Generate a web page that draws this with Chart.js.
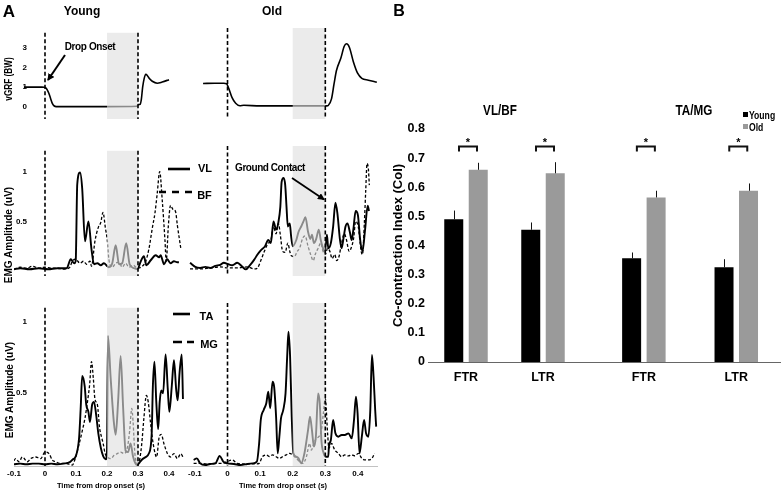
<!DOCTYPE html>
<html>
<head>
<meta charset="utf-8">
<script src="https://cdn.jsdelivr.net/npm/chart.js@4.4.1/dist/chart.umd.min.js"></script>
<style>
html,body{margin:0;padding:0;background:#fff;}
#fig{position:relative;width:781px;height:493px;overflow:hidden;font-family:"Liberation Sans",Arial,sans-serif;font-weight:bold;color:#000;}
#fig canvas{position:absolute;}
.t{position:absolute;transform:translate(-50%,-50%);line-height:1;white-space:nowrap;z-index:3;}
.l{position:absolute;transform:translate(0,-50%) scaleX(0.82);transform-origin:0 50%;line-height:1;white-space:nowrap;z-index:3;}
.r{transform:translate(-50%,-50%) rotate(-90deg);}
.rn{transform:translate(-50%,-50%) rotate(-90deg) scaleX(0.82);}
.n{transform:translate(-50%,-50%) scaleX(0.78);}
svg{position:absolute;left:0;top:0;z-index:2;}
</style>
</head>
<body>
<div id="fig">
  <div class="t" style="left:9px;top:11px;font-size:17px">A</div>
  <div class="t" style="left:82px;top:10.5px;font-size:12px">Young</div>
  <div class="t" style="left:272px;top:11px;font-size:12px">Old</div>
  <div class="t" style="left:90px;top:46.5px;font-size:10px;letter-spacing:-0.4px">Drop Onset</div>
  <div class="t" style="left:270px;top:167.5px;font-size:10px;letter-spacing:-0.45px">Ground Contact</div>
  <div class="t" style="left:205px;top:167.5px;font-size:11px">VL</div>
  <div class="t" style="left:204.5px;top:195px;font-size:11px">BF</div>
  <div class="t" style="left:206.5px;top:316px;font-size:11px">TA</div>
  <div class="t" style="left:209px;top:343.5px;font-size:11px">MG</div>
  <div class="t rn" style="left:9px;top:78.5px;font-size:10px">vGRF (BW)</div>
  <div class="t r" style="left:9px;top:235px;font-size:10px">EMG Amplitude (uV)</div>
  <div class="t r" style="left:9.5px;top:390px;font-size:10px">EMG Amplitude (uV)</div>

  <div class="t" style="left:399px;top:10.5px;font-size:16px">B</div>
  <div class="t n" style="left:499.5px;top:109px;font-size:15px">VL/BF</div>
  <div class="t n" style="left:694px;top:109px;font-size:15px">TA/MG</div>
  <div style="position:absolute;left:743px;top:112px;width:5px;height:5px;background:#000"></div>
  <div style="position:absolute;left:743px;top:124px;width:5px;height:5px;background:#9a9a9a"></div>
  <div class="l" style="left:749px;top:114.5px;font-size:10.5px">Young</div>
  <div class="l" style="left:749px;top:126.5px;font-size:10.5px">Old</div>

  <svg width="781" height="493">
    <defs>
      <marker id="ah" markerWidth="7" markerHeight="7" refX="6" refY="3.5" orient="auto" markerUnits="userSpaceOnUse">
        <path d="M0,0 L7,3.5 L0,7 z" fill="#000"/>
      </marker>
    </defs>
    <line x1="65" y1="55" x2="48" y2="80" stroke="#000" stroke-width="2" marker-end="url(#ah)"/>
    <line x1="292" y1="178" x2="324" y2="199.5" stroke="#000" stroke-width="1.8" marker-end="url(#ah)"/>
    <line x1="168" y1="169" x2="190" y2="169" stroke="#000" stroke-width="2.6"/>
    <line x1="159" y1="192" x2="192" y2="192" stroke="#000" stroke-width="2.6" stroke-dasharray="7,6"/>
    <line x1="173" y1="314" x2="190" y2="314" stroke="#000" stroke-width="2.6"/>
    <line x1="173" y1="342" x2="194" y2="342" stroke="#000" stroke-width="2.6" stroke-dasharray="9,5"/>
  </svg>
</div>

<script>
/* =====================
   Panel A data: [time (s), amplitude]
===================== */

const grfYoung=[[-0.068,1.0],[-0.04,1.0],[-0.01,1.0],[-0.003,0.99],[0.005,0.92],[0.012,0.7],[0.018,0.42],[0.024,0.15],[0.03,0.03],[0.036,0],[0.1,0],[0.2,0],[0.297,0.02],[0.3,0.1],[0.307,0.12],[0.311,0.4],[0.315,1.0],[0.32,1.45],[0.325,1.66],[0.33,1.6],[0.336,1.45],[0.346,1.3],[0.362,1.2],[0.378,1.26],[0.395,1.35],[0.4,1.38]];

const grfOld=[[-0.075,1.09],[-0.04,1.1],[-0.011,1.1],[-0.003,1.08],[0.004,0.84],[0.014,0.4],[0.025,0.13],[0.038,0.01],[0.05,0.03],[0.1,0],[0.2,0],[0.305,0],[0.309,0.02],[0.319,0.34],[0.327,1.09],[0.334,1.71],[0.348,2.34],[0.358,2.9],[0.365,3.02],[0.374,2.84],[0.386,2.15],[0.399,1.59],[0.412,1.34],[0.432,1.25],[0.458,1.15]];

const vlYoung=[[-0.1,0.02],[-0.08,0.03],[-0.05,0.02],[-0.02,0.03],[0.01,0.02],[0.04,0.03],[0.07,0.03],[0.083,0.12],[0.094,0.08],[0.099,0.1],[0.104,0.87],[0.113,0.99],[0.12,0.83],[0.129,0.3],[0.14,0.5],[0.15,0.22],[0.158,0.07],[0.169,0.08],[0.18,0.06],[0.19,0.08],[0.201,0.05],[0.206,0.04],[0.217,0.08],[0.228,0.26],[0.239,0.07],[0.249,0.08],[0.262,0.28],[0.273,0.07],[0.287,0.03],[0.298,0.02],[0.309,0.1],[0.319,0.15],[0.327,0.06],[0.341,0.11],[0.357,0.16],[0.368,0.14],[0.373,0.16],[0.384,0.07],[0.394,0.12],[0.405,0.08],[0.416,0.1],[0.427,0.09],[0.432,0.09]];

const bfYoung=[[-0.1,0.02],[-0.08,0.04],[-0.06,0.03],[-0.04,0.05],[-0.02,0.03],[0,0.04],[0.02,0.03],[0.04,0.03],[0.06,0.02],[0.08,0.04],[0.088,0.1],[0.099,0.12],[0.113,0.08],[0.124,0.1],[0.134,0.07],[0.145,0.1],[0.15,0.05],[0.161,0.3],[0.172,0.44],[0.18,0.49],[0.187,0.59],[0.195,0.43],[0.201,0.31],[0.206,0.12],[0.217,0.04],[0.228,0.08],[0.239,0.09],[0.249,0.04],[0.26,0.08],[0.271,0.04],[0.285,0.06],[0.298,0.03],[0.314,0.05],[0.325,0.1],[0.335,0.22],[0.346,0.43],[0.355,0.59],[0.362,0.78],[0.37,1.0],[0.378,0.72],[0.387,0.31],[0.391,0.1],[0.398,0.46],[0.405,0.66],[0.413,0.62],[0.421,0.6],[0.427,0.46],[0.438,0.23]];

const vlOld=[[-0.115,0.08],[-0.099,0.04],[-0.084,0.03],[-0.068,0.04],[-0.053,0.03],[-0.037,0.05],[-0.022,0.06],[-0.011,0.08],[-0.001,0.07],[0.015,0.056],[0.03,0.08],[0.045,0.043],[0.056,0.016],[0.069,0.056],[0.082,0.11],[0.092,0.16],[0.102,0.2],[0.115,0.24],[0.125,0.3],[0.133,0.27],[0.141,0.48],[0.149,0.4],[0.156,0.47],[0.162,0.62],[0.166,0.86],[0.172,0.9],[0.177,0.83],[0.181,0.62],[0.185,0.43],[0.191,0.46],[0.195,0.34],[0.2,0.24],[0.211,0.3],[0.218,0.38],[0.226,0.43],[0.233,0.48],[0.239,0.52],[0.247,0.38],[0.254,0.31],[0.259,0.35],[0.265,0.27],[0.272,0.31],[0.28,0.4],[0.286,0.3],[0.293,0.22],[0.298,0.18],[0.305,0.35],[0.309,0.22],[0.317,0.27],[0.324,0.43],[0.331,0.66],[0.337,0.56],[0.345,0.3],[0.35,0.22],[0.356,0.32],[0.362,0.43],[0.368,0.46],[0.375,0.38],[0.381,0.3],[0.386,0.4],[0.393,0.58],[0.4,0.54],[0.407,0.3],[0.414,0.19],[0.422,0.4],[0.43,0.63],[0.434,0.58]];

const bfOld=[[-0.115,0.02],[-0.084,0.02],[-0.053,0.03],[-0.022,0.04],[-0.001,0.03],[0.03,0.03],[0.061,0.04],[0.082,0.02],[0.092,0.03],[0.102,0.1],[0.113,0.19],[0.123,0.26],[0.133,0.3],[0.141,0.43],[0.149,0.36],[0.156,0.46],[0.162,0.35],[0.169,0.19],[0.177,0.18],[0.185,0.27],[0.191,0.19],[0.195,0.15],[0.205,0.14],[0.214,0.19],[0.221,0.22],[0.231,0.32],[0.238,0.34],[0.247,0.24],[0.255,0.16],[0.263,0.1],[0.269,0.16],[0.278,0.22],[0.286,0.27],[0.293,0.19],[0.3,0.16],[0.307,0.22],[0.314,0.19],[0.321,0.12],[0.329,0.16],[0.335,0.1],[0.342,0.14],[0.35,0.27],[0.358,0.36],[0.365,0.3],[0.373,0.19],[0.379,0.22],[0.387,0.32],[0.393,0.48],[0.401,0.43],[0.41,0.19],[0.414,0.16],[0.42,0.48],[0.424,0.78],[0.428,1.04],[0.432,0.99],[0.435,0.83]];

const taYoung=[[-0.1,0.005],[-0.08,0.01],[-0.06,0.005],[-0.04,0.01],[-0.02,0.01],[0,0.005],[0.02,0.01],[0.04,0.005],[0.06,0.01],[0.08,0.02],[0.09,0.04],[0.099,0.06],[0.11,0.19],[0.115,0.39],[0.12,0.62],[0.128,0.55],[0.133,0.42],[0.14,0.37],[0.145,0.3],[0.152,0.42],[0.158,0.44],[0.165,0.35],[0.172,0.22],[0.18,0.12],[0.188,0.06],[0.196,0.04],[0.2,0.1],[0.203,0.9],[0.212,0.6],[0.222,0.3],[0.228,0.21],[0.236,0.45],[0.244,0.76],[0.252,0.4],[0.26,0.1],[0.268,0.09],[0.276,0.15],[0.284,0.06],[0.292,0.01],[0.298,0],[0.306,0.02],[0.314,0.04],[0.325,0.056],[0.335,0.08],[0.344,0.21],[0.348,0.55],[0.353,0.72],[0.359,0.44],[0.365,0.25],[0.37,0.44],[0.375,0.52],[0.381,0.5],[0.389,0.77],[0.396,0.53],[0.401,0.37],[0.409,0.55],[0.416,0.73],[0.423,0.53],[0.428,0.45],[0.434,0.64],[0.441,0.77],[0.445,0.46]];

const mgYoung=[[-0.1,0.03],[-0.095,0.045],[-0.084,0.023],[-0.073,0.056],[-0.057,0.023],[-0.046,0.045],[-0.03,0.056],[-0.014,0.045],[0,0.09],[0.013,0.079],[0.024,0.034],[0.034,0.023],[0.05,0.011],[0.067,0.011],[0.088,0],[0.099,0.056],[0.11,0.146],[0.12,0.236],[0.129,0.326],[0.137,0.44],[0.144,0.56],[0.15,0.72],[0.156,0.6],[0.161,0.46],[0.169,0.42],[0.176,0.26],[0.183,0.19],[0.188,0.146],[0.194,0.079],[0.201,0.056],[0.212,0.045],[0.223,0.068],[0.233,0.079],[0.244,0.09],[0.255,0.079],[0.266,0.124],[0.273,0.236],[0.28,0.394],[0.284,0.304],[0.29,0.079],[0.298,0.011],[0.305,0.034],[0.312,0.146],[0.319,0.326],[0.327,0.484],[0.333,0.439],[0.341,0.282],[0.346,0.191],[0.353,0.101],[0.36,0.056],[0.368,0.191],[0.375,0.214],[0.384,0.146],[0.395,0.079],[0.405,0.056],[0.416,0.079],[0.427,0.045],[0.438,0.079],[0.445,0.056]];

const taOld=[[-0.104,0.034],[-0.094,0.045],[-0.084,0.011],[-0.068,0],[-0.053,0.007],[-0.037,0.011],[-0.024,0.061],[-0.013,0.023],[-0.001,0.011],[0.02,0.007],[0.04,0],[0.061,0.007],[0.077,0.011],[0.09,0.023],[0.097,0.146],[0.102,0.304],[0.111,0.372],[0.119,0.417],[0.125,0.495],[0.131,0.383],[0.138,0.563],[0.143,0.529],[0.149,0.326],[0.154,0.079],[0.159,0.191],[0.164,0.315],[0.171,0.372],[0.178,0.484],[0.183,0.732],[0.187,0.901],[0.192,0.732],[0.197,0.326],[0.202,0.079],[0.211,0.056],[0.218,0.045],[0.226,0.011],[0.236,0.079],[0.247,0.236],[0.253,0.326],[0.259,0.236],[0.265,0.124],[0.271,0.191],[0.278,0.484],[0.283,0.417],[0.288,0.169],[0.295,0.079],[0.301,0.056],[0.309,0.056],[0.311,0.124],[0.317,0.169],[0.324,0.304],[0.331,0.214],[0.34,0.191],[0.35,0.203],[0.36,0.203],[0.371,0.214],[0.381,0.18],[0.388,0.304],[0.394,0.461],[0.399,0.349],[0.405,0.079],[0.412,0.191],[0.419,0.304],[0.425,0.214],[0.432,0.191],[0.438,0.372],[0.443,0.743],[0.448,0.597],[0.453,0.372],[0.456,0.259]];

const mgOld=[[-0.104,0.011],[-0.084,0.011],[-0.063,0.007],[-0.042,0.011],[-0.016,0.011],[-0.001,0.023],[0.015,0.034],[0.03,0.011],[0.061,0.007],[0.087,0.007],[0.097,0.011],[0.107,0.056],[0.119,0.068],[0.129,0.056],[0.138,0.068],[0.149,0.056],[0.159,0.045],[0.169,0.056],[0.18,0.068],[0.19,0.079],[0.2,0.068],[0.211,0.045],[0.221,0.023],[0.231,0.011],[0.242,0.056],[0.252,0.146],[0.257,0.101],[0.265,0.146],[0.272,0.18],[0.28,0.191],[0.288,0.236],[0.294,0.349],[0.3,0.45],[0.307,0.214],[0.311,0.113],[0.319,0.146],[0.329,0.101],[0.34,0.079],[0.35,0.056],[0.36,0.068],[0.371,0.061],[0.381,0.068],[0.391,0.061],[0.401,0.079],[0.412,0.045],[0.422,0.034],[0.432,0.034],[0.443,0.045],[0.451,0.079]];

const timeTicks=[-0.1,0,0.1,0.2,0.3,0.4];
const grfTicks=[0,1,2,3];
const emgTicks=[0.5,1];
const eventTimes=[0,0.3];      // drop onset, ground contact
const contactBand=[0.2,0.3];   // shaded pre-contact window

/* =====================
   Panel B data
===================== */

const conditions=["FTR","LTR","FTR","LTR"];
const coiYoung=[0.49,0.454,0.356,0.325];
const coiOld=[0.66,0.648,0.565,0.588];
const seYoung=[0.03,0.025,0.02,0.028];
const seOld=[0.024,0.038,0.023,0.025];
const coiTicks=[0,0.1,0.2,0.3,0.4,0.5,0.6,0.7,0.8];
const groupPos=[0,1,2.31,3.51];  // uneven spacing between the two muscle pairs
const sigBracketAt=0.74;


const FONT="'Liberation Sans', Arial, sans-serif";
const fig=document.getElementById("fig");

function addCanvas(left,top,w,h){
  const c=document.createElement("canvas");
  c.width=w; c.height=h;
  c.style.left=left+"px"; c.style.top=top+"px";
  fig.appendChild(c);
  return c;
}


/* =====================
   Panel A cells
===================== */

const cols={
  young:{left:0,pad:14,width:188,t0:-0.1,pxPerSec:310},
  old:{left:188,pad:0,width:190,t0:-0.1212,pxPerSec:326}
};

const rows={
  grf:{top:28,height:118,plotH:118,zeroY:129,pxPerUnit:26.67},
  emg1:{top:146,height:157,plotH:157,zeroY:297,pxPerUnit:125},
  emg2:{top:303,height:190,plotH:163,zeroY:465,pxPerUnit:148}
};

// grey window drawn over the traces + dashed event lines
const bandPlugin={
  id:"band",
  afterDatasetsDraw(chart){
    const {ctx,chartArea:a}=chart;
    const x=chart.scales.x;
    const x0=x.getPixelForValue(contactBand[0]);
    const x1=x.getPixelForValue(contactBand[1]);
    ctx.save();
    ctx.fillStyle="rgba(222,222,222,0.62)";
    ctx.fillRect(x0,a.top,x1-x0,a.bottom-a.top);
    ctx.strokeStyle="#000";
    ctx.lineWidth=1.6;
    ctx.setLineDash([4,2.5]);
    eventTimes.forEach(t=>{
      const px=x.getPixelForValue(t);
      ctx.beginPath();
      ctx.moveTo(px,a.top);
      ctx.lineTo(px,a.bottom);
      ctx.stroke();
    });
    ctx.restore();
  }
};

function trace(points,dashed,width){
  return {
    data:points.map(p=>({x:p[0],y:p[1]})),
    borderColor:"#000",
    borderWidth:width||(dashed?1.3:1.9),
    borderDash:dashed?[3,2]:[],
    pointRadius:0,
    cubicInterpolationMode:"monotone",
    fill:false
  };
}

function panelCell(col,row,datasets,yTicks,showTime){
  const c=cols[col], r=rows[row];
  const canvas=addCanvas(c.left,r.top,c.width,r.height);
  const yMax=(r.zeroY-r.top)/r.pxPerUnit;
  const yMin=yMax-r.plotH/r.pxPerUnit;
  const tMax=c.t0+(c.width-c.pad)/c.pxPerSec;

  return new Chart(canvas,{
    type:"line",
    data:{datasets:datasets},
    options:{
      responsive:false,
      animation:false,
      devicePixelRatio:1,
      layout:{padding:{left:c.pad,right:0,top:0,bottom:0}},
      plugins:{legend:{display:false},tooltip:{enabled:false}},
      scales:{
        x:{
          type:"linear",
          min:c.t0,
          max:tMax,
          display:showTime,
          grid:{display:false,drawTicks:false},
          border:{display:true,color:"#c2c2c2",width:1},
          afterBuildTicks:s=>{s.ticks=timeTicks.map(v=>({value:v}));},
          afterFit:s=>{s.height=27;s.paddingLeft=0;s.paddingRight=0;},
          ticks:{autoSkip:false,maxRotation:0,padding:3,color:"#000",
            font:{family:FONT,weight:"bold",size:8},callback:v=>String(v)},
          title:{display:true,text:"Time from drop onset (s)",color:"#000",
            font:{family:FONT,weight:"bold",size:7.5},padding:{top:1,bottom:3}}
        },
        y:{
          type:"linear",
          axis:"y",
          // tick labels sit just inside the trace area, right-aligned
          position:{x:c.t0+13/c.pxPerSec},
          min:yMin,
          max:yMax,
          display:!!yTicks,
          grid:{display:false,drawTicks:false},
          border:{display:false},
          afterBuildTicks:s=>{s.ticks=(yTicks||[]).map(v=>({value:v}));},
          ticks:{padding:0,color:"#000",
            font:{family:FONT,weight:"bold",size:8},callback:v=>String(v)}
        }
      }
    },
    plugins:[bandPlugin]
  });
}

panelCell("young","grf",[trace(grfYoung,false,1.6)],grfTicks,false);
panelCell("old","grf",[trace(grfOld,false,1.6)],null,false);

panelCell("young","emg1",[trace(bfYoung,true),trace(vlYoung,false)],emgTicks,false);
panelCell("old","emg1",[trace(bfOld,true),trace(vlOld,false)],null,false);

panelCell("young","emg2",[trace(mgYoung,true),trace(taYoung,false)],emgTicks,true);
panelCell("old","emg2",[trace(mgOld,true),trace(taOld,false)],null,true);


/* =====================
   Panel B bar chart
===================== */

const coiMarks={
  id:"coiMarks",
  afterDatasetsDraw(chart){
    const {ctx}=chart;
    const y=chart.scales.y;
    const young=chart.getDatasetMeta(0).data;
    const old=chart.getDatasetMeta(1).data;

    ctx.save();
    ctx.strokeStyle="#111";
    ctx.lineWidth=1;
    [[young,coiYoung,seYoung],[old,coiOld,seOld]].forEach(([bars,vals,se])=>{
      bars.forEach((b,i)=>{
        const top=y.getPixelForValue(vals[i]+se[i]);
        const px=Math.round(b.x)+0.5;
        ctx.beginPath();
        ctx.moveTo(px,b.y);
        ctx.lineTo(px,top);
        ctx.stroke();
      });
    });

    const yb=y.getPixelForValue(sigBracketAt);
    ctx.lineWidth=2;
    ctx.fillStyle="#000";
    ctx.font="bold 11px "+FONT;
    ctx.textAlign="center";
    young.forEach((b,i)=>{
      const mid=(b.x+old[i].x)/2+2;
      ctx.beginPath();
      ctx.moveTo(mid-9,yb+5);
      ctx.lineTo(mid-9,yb);
      ctx.lineTo(mid+9,yb);
      ctx.lineTo(mid+9,yb+5);
      ctx.stroke();
      ctx.fillText("*",mid,yb);
    });
    ctx.restore();
  }
};

const barCanvas=addCanvas(380,0,401,493);

new Chart(barCanvas,{
  type:"bar",
  data:{
    datasets:[
      {label:"Young",data:coiYoung.map((v,i)=>({x:groupPos[i],y:v})),backgroundColor:"#000",
        categoryPercentage:0.636,barPercentage:0.776},
      {label:"Old",data:coiOld.map((v,i)=>({x:groupPos[i],y:v})),backgroundColor:"#9a9a9a",
        categoryPercentage:0.636,barPercentage:0.776}
    ]
  },
  options:{
    responsive:false,
    animation:false,
    devicePixelRatio:1,
    layout:{padding:{top:129,left:0,right:0,bottom:0}},
    plugins:{legend:{display:false},tooltip:{enabled:false}},
    scales:{
      x:{
        type:"linear",
        offset:false,
        min:-0.4935,
        max:-0.4935+353/77,
        grid:{display:false,drawTicks:false},
        border:{display:true,color:"#666",width:1},
        afterBuildTicks:s=>{s.ticks=groupPos.map(v=>({value:v}));},
        afterFit:s=>{s.height=131;s.paddingLeft=0;s.paddingRight=0;},
        ticks:{autoSkip:false,maxRotation:0,padding:8,color:"#000",
          font:{family:FONT,weight:"bold",size:12.5},
          callback:(v,i)=>conditions[i]}
      },
      y:{
        min:0,
        max:0.8,
        grid:{display:false,drawTicks:false},
        border:{display:false},
        afterBuildTicks:s=>{s.ticks=coiTicks.map(v=>({value:v}));},
        afterFit:s=>{s.width=48;},
        ticks:{padding:3,color:"#000",font:{family:FONT,weight:"bold",size:12.5},
          callback:v=>v===0?"0":v.toFixed(1)},
        title:{display:true,text:"Co-contraction Index (CoI)",color:"#000",
          font:{family:FONT,weight:"bold",size:13},padding:{top:11,bottom:0}}
      }
    }
  },
  plugins:[coiMarks]
});
</script>
</body>
</html>
